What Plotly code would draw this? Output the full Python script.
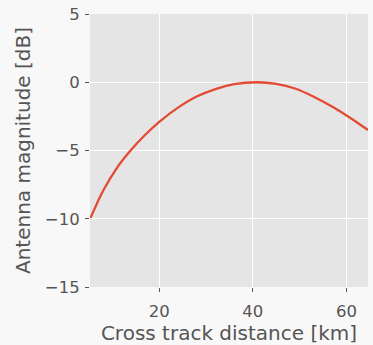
import plotly.graph_objects as go

distance_km = [5.3, 8.0, 11.0, 14.0, 17.0, 20.0, 24.0, 28.0, 32.0, 36.0,
               40.8, 45.0, 49.0, 53.0, 57.0, 61.0, 64.6]
magnitude_db = [-9.95, -7.95, -6.25, -4.95, -3.85, -2.9, -1.86, -1.05, -0.5, -0.145,
                0.0, -0.12, -0.46, -1.06, -1.8, -2.65, -3.5]
x_ticks = [20, 40, 60]
y_ticks = [-15, -10, -5, 0, 5]
y_tick_text = ["\u221215", "\u221210", "\u22125", "0", "5"]

fig = go.Figure()
fig.add_trace(go.Scatter(x=distance_km, y=magnitude_db, mode="lines",
                         line=dict(color="#E24A33", width=2.3, shape="spline", smoothing=0.8)))

axis_common = dict(showgrid=True, gridcolor="white", gridwidth=1.3, zeroline=False,
                   showline=False, ticks="outside", ticklen=4, tickwidth=1,
                   tickcolor="#555555", tickfont=dict(family="DejaVu Sans", size=16.5, color="#555555"))
fig.update_layout(
    width=373, height=345,
    margin=dict(l=90, r=5, t=14, b=55),
    paper_bgcolor="#F8F8F8", plot_bgcolor="#E5E5E5",
    showlegend=False,
    font=dict(family="DejaVu Sans", color="#555555"),
    xaxis=dict(range=[5.2, 64.6], tickvals=x_ticks, ticklabelstandoff=5,
               title=dict(text="Cross track distance [km]", font=dict(size=20, color="#555555"), standoff=5),
               **axis_common),
    yaxis=dict(range=[-15, 5], tickvals=y_ticks, ticktext=y_tick_text, ticklabelstandoff=2,
               title=dict(text="Antenna magnitude [dB]", font=dict(size=20, color="#555555"), standoff=8),
               **axis_common),
)
fig.write_html("out.html")
